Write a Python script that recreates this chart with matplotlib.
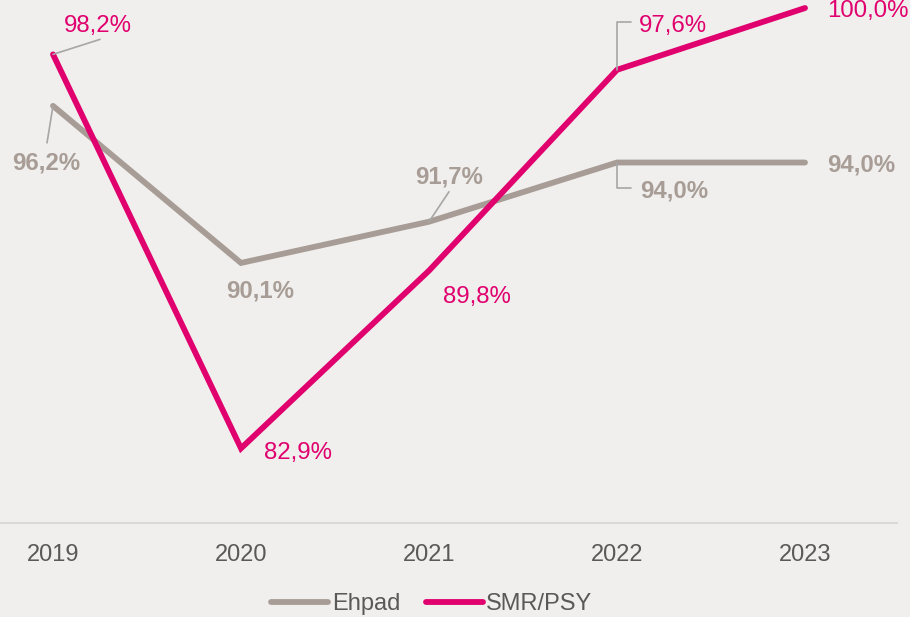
import matplotlib.pyplot as plt

# Data
years = ["2019", "2020", "2021", "2022", "2023"]
ehpad = [96.2, 90.1, 91.7, 94.0, 94.0]
smr_psy = [98.2, 82.9, 89.8, 97.6, 100.0]

GREY = "#A89D96"
MAGENTA = "#E0006E"
LEAD = "#A6A6A6"
BG = "#F0EFED"

plt.rcParams['font.family'] = ['Liberation Sans', 'DejaVu Sans']

fig = plt.figure(figsize=(9.1, 6.17), dpi=100, facecolor=BG)
ax = fig.add_axes([0, 1 - 523 / 617, 897 / 910, 523 / 617])
ax.set_facecolor(BG)

x = list(range(len(years)))
ax.plot(x, ehpad, color=GREY, lw=4.2, solid_capstyle='round', solid_joinstyle='miter', label="Ehpad")
ax.plot(x, smr_psy, color=MAGENTA, lw=4.2, solid_capstyle='round', solid_joinstyle='miter', label="SMR/PSY")

ax.set_xlim(-53 / 188, 844 / 188)
ax.set_ylim(80, 100 + 8 / 25.67)

for s in ['top', 'right', 'left']:
    ax.spines[s].set_visible(False)
ax.spines['bottom'].set_color("#D9D9D9")
ax.spines['bottom'].set_linewidth(1.5)
ax.set_yticks([])
ax.set_xticks(x)
ax.set_xticklabels(years)
ax.tick_params(axis='x', length=0, pad=15, labelsize=17, labelcolor="#595959")


def fmt(v):
    return "{:.1f}%".format(v).replace(".", ",")


def label(i, v, dx, dy, color, weight, ha='center', leader=None, elbow=False):
    ax.annotate(fmt(v), xy=(i, v), xytext=(dx, dy), textcoords='offset pixels',
                ha=ha, va='baseline', fontsize=17.3, color=color, fontweight=weight)
    if leader is not None:
        props = dict(arrowstyle='-', color=LEAD, lw=1.2, shrinkA=0, shrinkB=0)
        if elbow:
            props['connectionstyle'] = 'angle,angleA=0,angleB=90,rad=0'
        ax.annotate('', xy=(i, v), xytext=leader, textcoords='offset pixels', arrowprops=props)


# SMR/PSY labels
label(0, smr_psy[0], 45, 22, MAGENTA, 'normal', leader=(47, 15))
label(1, smr_psy[1], 23, -11, MAGENTA, 'normal', ha='left')
label(2, smr_psy[2], 48, -32, MAGENTA, 'normal')
label(3, smr_psy[3], 22, 38, MAGENTA, 'normal', ha='left', leader=(14, 48), elbow=True)
label(4, smr_psy[4], 22, -9, MAGENTA, 'normal', ha='left')

# Ehpad labels
label(0, ehpad[0], -7, -64, GREY, 'bold', leader=(-6, -37))
label(1, ehpad[1], 19, -35, GREY, 'bold')
label(2, ehpad[2], 20, 38, GREY, 'bold', leader=(20, 30))
label(3, ehpad[3], 23, -35, GREY, 'bold', ha='left', leader=(14, -25), elbow=True)
label(4, ehpad[4], 22, -9, GREY, 'bold', ha='left')

leg = fig.legend(loc='center', bbox_to_anchor=(432 / 910, 1 - 604 / 617), ncol=2, frameon=False,
                 fontsize=17, handlelength=2.4, handletextpad=0.15, columnspacing=1.1,
                 labelcolor="#595959")

fig.savefig("out.png", dpi=100, facecolor=BG)
